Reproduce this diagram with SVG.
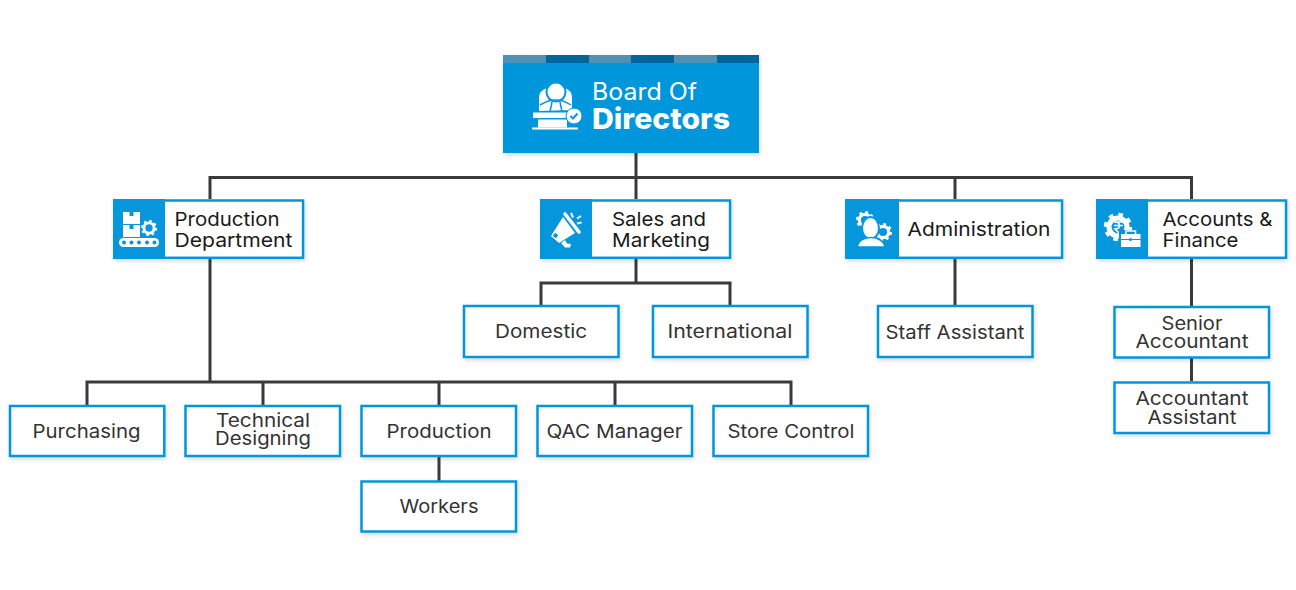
<svg xmlns="http://www.w3.org/2000/svg" width="1296" height="590" viewBox="0 0 1296 590">
<style>
  text { font-family: "Inter", "Noto Sans", "Liberation Sans", sans-serif; text-anchor: middle; }
  .sub { fill: #333333; font-size: 18.5px; }
  .dept { fill: #1a1a1a; font-size: 19px; text-anchor: start; }
  .box { fill: #ffffff; stroke: #0596dc; stroke-width: 2.5; filter: url(#lift); }
  .panel { fill: #0596dc; }
  .ico { fill: #ffffff; }
  .icoline { fill: none; stroke: #ffffff; }
  .cut { fill: none; stroke: #0596dc; }
  .wire { fill: none; stroke: #3a3a3a; stroke-width: 3; }
</style>
<defs>
  <filter id="lift" x="-10%" y="-15%" width="120%" height="135%">
    <feDropShadow dx="1" dy="2" stdDeviation="2" flood-color="#000000" flood-opacity="0.16"/>
  </filter>
  <g id="gear">
    <circle r="6" class="icoline" stroke-width="3.4"/>
    <circle r="8.2" fill="none" stroke="#ffffff" stroke-width="2.6" stroke-dasharray="3 3.44"/>
  </g>
</defs>
<rect width="1296" height="590" fill="#ffffff"/>

<g id="connectors">
  <path class="wire" d="M636 153V199M210 199V177.500H1191.500V199M955 177.500V199"/>
  <path class="wire" d="M210 259V382M87 405V382H791V405M263 382V405M439 382V405M615 382V405"/>
  <path class="wire" d="M439 457V481"/>
  <path class="wire" d="M636 259V283M541 305V283H730V305"/>
  <path class="wire" d="M955 259V305"/>
  <path class="wire" d="M1191.500 259V306M1191.500 358V381"/>
</g>

<g id="board">
  <rect x="503" y="55" width="256" height="98" fill="#0596dc" filter="url(#lift)"/>
  <rect x="503" y="55" width="43" height="8" fill="#5091b3"/>
  <rect x="546" y="55" width="43" height="8" fill="#02659a"/>
  <rect x="589" y="55" width="42" height="8" fill="#5091b3"/>
  <rect x="631" y="55" width="43" height="8" fill="#02659a"/>
  <rect x="674" y="55" width="43" height="8" fill="#5091b3"/>
  <rect x="717" y="55" width="42" height="8" fill="#02659a"/>
  <!-- seated figure behind a desk -->
  <path class="ico" d="M539 111V97Q539 91 547 88H565Q572 91 572 97V110Z"/>
  <circle cx="556" cy="92" r="10.500" fill="#0596dc"/>
  <circle class="ico" cx="556" cy="92" r="8.500"/>
  <path class="cut" stroke-width="1.500" d="M540 105Q556 95 571 105M552 102L550 112M560 102L562 112"/>
  <rect class="ico" x="533" y="112.500" width="36" height="5.500"/>
  <rect class="ico" x="538" y="119.500" width="29" height="8"/>
  <rect class="ico" x="532" y="127.500" width="46" height="2"/>
  <circle class="ico" cx="574" cy="116" r="8" stroke="#0596dc" stroke-width="1"/>
  <path class="cut" stroke-width="2" d="M570.500 116L573 118.500L577.500 113.500"/>
  <text x="592" y="100" fill="#ffffff" font-size="24" style="text-anchor:start" textLength="105" lengthAdjust="spacingAndGlyphs">Board Of</text>
  <text x="592" y="129" fill="#ffffff" font-size="29" font-weight="800" style="text-anchor:start" textLength="138" lengthAdjust="spacingAndGlyphs">Directors</text>
</g>

<g id="production-department">
  <rect class="box" x="114.250" y="200.500" width="188.800" height="57.300"/>
  <rect class="panel" x="113" y="199" width="52" height="60"/>
  <rect class="ico" x="123" y="212" width="17" height="12"/>
  <rect class="ico" x="123" y="225" width="17" height="12"/>
  <rect x="129.500" y="212" width="4" height="4" fill="#0596dc"/>
  <rect x="129.500" y="225" width="4" height="4" fill="#0596dc"/>
  <use href="#gear" transform="translate(149 228) scale(0.85)"/>
  <rect class="ico" x="119" y="238" width="40" height="9" rx="4.500"/>
  <g fill="#0596dc"><circle cx="124" cy="242.500" r="2"/><circle cx="131.500" cy="242.500" r="2"/><circle cx="139" cy="242.500" r="2"/><circle cx="147" cy="242.500" r="2"/><circle cx="154.500" cy="242.500" r="2"/></g>
  <text class="dept" x="174.500" y="226" textLength="105" lengthAdjust="spacingAndGlyphs">Production</text>
  <text class="dept" x="174.500" y="247" textLength="118" lengthAdjust="spacingAndGlyphs">Department</text>
</g>

<g id="sales-and-marketing">
  <rect class="box" x="541.250" y="200.500" width="188.800" height="57.300"/>
  <rect class="panel" x="540" y="199" width="52" height="60"/>
  <!-- megaphone -->
  <path class="icoline" stroke-width="3.600" stroke-linecap="round" d="M565 214L579 232"/>
  <path class="ico" d="M563 217L575 233L559 243L551 236Z"/>
  <rect x="553.500" y="233.500" width="4" height="4" fill="#0596dc" transform="rotate(40 555.500 235.500)"/>
  <path class="ico" d="M561 243L565 240L567 243.500L571 244L570 247.500L565 247.500Z"/>
  <path class="icoline" stroke-width="2" d="M571 213L573 217.500M577 218.500L581 216M577 223.500L581.500 222.500"/>
  <text class="dept" x="612" y="226" textLength="94" lengthAdjust="spacingAndGlyphs">Sales and</text>
  <text class="dept" x="612" y="247" textLength="98" lengthAdjust="spacingAndGlyphs">Marketing</text>
</g>

<g id="administration">
  <rect class="box" x="846.250" y="200.500" width="215.800" height="57.300"/>
  <rect class="panel" x="845" y="199" width="54" height="60"/>
  <use href="#gear" transform="translate(865 220) scale(0.95)"/>
  <use href="#gear" transform="translate(883 232) scale(0.95)"/>
  <ellipse cx="870.500" cy="228" rx="9.500" ry="12" fill="#0596dc"/>
  <ellipse class="ico" cx="870.500" cy="228" rx="7.500" ry="10"/>
  <path d="M857.500 247C858 241 864 237.500 871 237.500C878 237.500 884 241 885 247Z" fill="#ffffff" stroke="#0596dc" stroke-width="1.500"/>
  <text class="dept" x="907.500" y="236" textLength="143" lengthAdjust="spacingAndGlyphs">Administration</text>
</g>

<g id="accounts-and-finance">
  <rect class="box" x="1097.250" y="200.500" width="188.800" height="57.300"/>
  <rect class="panel" x="1096" y="199" width="52" height="60"/>
  <use href="#gear" transform="translate(1118 227) scale(1.500)"/>
  <path class="icoline" stroke-width="1.500" d="M1114 222H1123M1114 225.500H1123M1115 222C1121 222 1121 229 1115 229L1121 235"/>
  <rect x="1119" y="230" width="23" height="18" fill="#0596dc"/>
  <rect class="ico" x="1121" y="234" width="19.500" height="5"/>
  <path class="icoline" stroke-width="1.500" d="M1126 234V231H1135.500V234"/>
  <rect class="ico" x="1121" y="240" width="19.500" height="7"/>
  <circle cx="1130.500" cy="239.500" r="1.600" fill="#0596dc"/>
  <text class="dept" x="1162.500" y="226" textLength="110" lengthAdjust="spacingAndGlyphs">Accounts &amp;</text>
  <text class="dept" x="1162.500" y="247" textLength="76" lengthAdjust="spacingAndGlyphs">Finance</text>
</g>

<g id="domestic"><rect class="box" x="464" y="306" width="154.500" height="51"/><text class="sub" x="541" y="338" textLength="92" lengthAdjust="spacingAndGlyphs">Domestic</text></g>
<g id="international"><rect class="box" x="653" y="306" width="154.500" height="51"/><text class="sub" x="730" y="338" textLength="125" lengthAdjust="spacingAndGlyphs">International</text></g>
<g id="staff-assistant"><rect class="box" x="878" y="306" width="154.500" height="51"/><text class="sub" x="955" y="339" textLength="139" lengthAdjust="spacingAndGlyphs">Staff Assistant</text></g>
<g id="senior-accountant"><rect class="box" x="1114.500" y="307" width="154.500" height="50.500"/><text class="sub" x="1192" y="330" textLength="61" lengthAdjust="spacingAndGlyphs">Senior</text><text class="sub" x="1192" y="348" textLength="113" lengthAdjust="spacingAndGlyphs">Accountant</text></g>
<g id="accountant-assistant"><rect class="box" x="1114.500" y="382.500" width="154.500" height="50.500"/><text class="sub" x="1192" y="405" textLength="113" lengthAdjust="spacingAndGlyphs">Accountant</text><text class="sub" x="1192" y="424" textLength="89" lengthAdjust="spacingAndGlyphs">Assistant</text></g>
<g id="purchasing"><rect class="box" x="10" y="406" width="154.300" height="50"/><text class="sub" x="86.500" y="438" textLength="108" lengthAdjust="spacingAndGlyphs">Purchasing</text></g>
<g id="technical-designing"><rect class="box" x="185.500" y="406" width="154.500" height="50"/><text class="sub" x="263" y="427" textLength="94" lengthAdjust="spacingAndGlyphs">Technical</text><text class="sub" x="263" y="445" textLength="96" lengthAdjust="spacingAndGlyphs">Designing</text></g>
<g id="production"><rect class="box" x="361.500" y="406" width="154.500" height="50"/><text class="sub" x="439" y="438" textLength="105" lengthAdjust="spacingAndGlyphs">Production</text></g>
<g id="qac-manager"><rect class="box" x="537.500" y="406" width="154.500" height="50"/><text class="sub" x="614.500" y="438" textLength="136" lengthAdjust="spacingAndGlyphs">QAC Manager</text></g>
<g id="store-control"><rect class="box" x="713.500" y="406" width="154.500" height="50"/><text class="sub" x="791" y="438" textLength="127" lengthAdjust="spacingAndGlyphs">Store Control</text></g>
<g id="workers"><rect class="box" x="361.500" y="481.500" width="154.500" height="50"/><text class="sub" x="439" y="513" textLength="79" lengthAdjust="spacingAndGlyphs">Workers</text></g>
</svg>
